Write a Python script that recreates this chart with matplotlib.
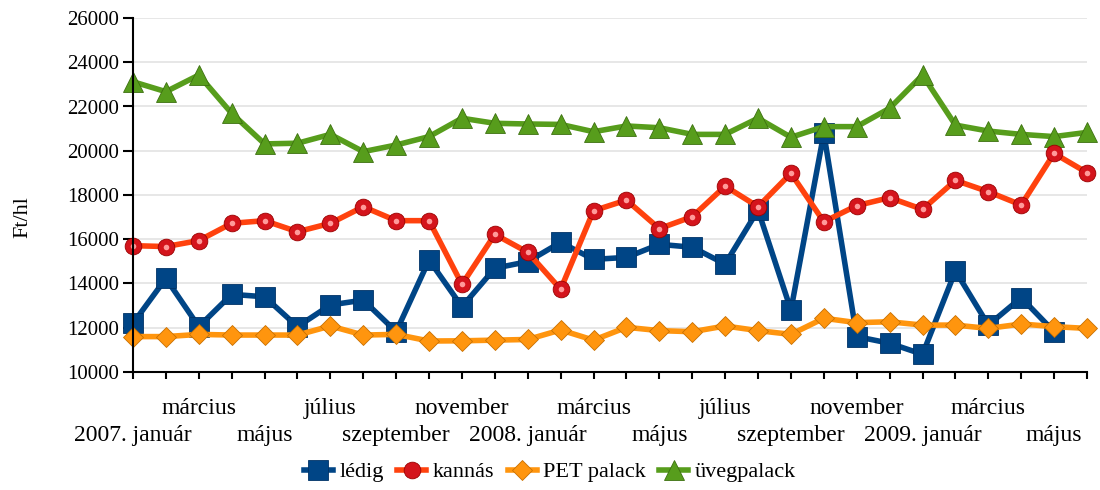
import matplotlib.pyplot as plt
import numpy as np

# havi árak (Ft/hl), 2007. január - 2009. június
honapok = ['2007. január', 'február', 'március', 'április', 'május', 'június',
           'július', 'augusztus', 'szeptember', 'október', 'november', 'december',
           '2008. január', 'február', 'március', 'április', 'május', 'június',
           'július', 'augusztus', 'szeptember', 'október', 'november', 'december',
           '2009. január', 'február', 'március', 'április', 'május', 'június']

ledig = [12200, 14230, 12050, 13510, 13400, 12050, 13030, 13250, 11820, 15060,
         12950, 14690, 14990, 15860, 15090, 15180, 15770, 15640, 14880, 17320,
         12800, 20790, 11600, 11300, 10800, 14570, 12120, 13360, 11820, np.nan]
kannas = [15710, 15670, 15940, 16720, 16840, 16340, 16720, 17470, 16840, 16840,
          13960, 16220, 15410, 13740, 17290, 17770, 16480, 17020, 18400, 17470,
          18980, 16790, 17520, 17880, 17350, 18660, 18150, 17550, 19880, 19010]
pet = [11600, 11600, 11700, 11670, 11670, 11670, 12080, 11670, 11700, 11400,
       11410, 11440, 11470, 11900, 11440, 12020, 11870, 11820, 12080, 11870,
       11700, 12430, 12230, 12270, 12120, 12120, 11970, 12170, 12050, 11970]
uveg = [23120, 22670, 23420, 21690, 20310, 20340, 20740, 19960, 20260, 20640,
        21470, 21240, 21210, 21190, 20860, 21120, 21040, 20740, 20740, 21470,
        20610, 21090, 21090, 21920, 23420, 21160, 20890, 20740, 20640, 20830]

plt.rcParams['font.family'] = ['Liberation Serif', 'DejaVu Serif']

fig = plt.figure(figsize=(11, 4.9), dpi=100)
ax = fig.add_axes([133 / 1100, 1 - 372 / 490, (1087 - 133) / 1100, 354 / 490])

x = np.arange(len(honapok))

ax.plot(x, ledig, color='#004586', lw=4, marker='s', ms=14,
        mfc='#004586', mec='#003366', mew=0.6, label='lédig', clip_on=False, zorder=3)
ax.plot(x, kannas, color='#ff420e', lw=4, marker='o', ms=12,
        mfc='#d4141c', mec='#9a0000', mew=0.6, label='kannás', clip_on=False, zorder=4)
ax.plot(x, kannas, ls='none', marker='o', ms=4, mfc='#ff9a9a', mec='none',
        clip_on=False, zorder=5)
ax.plot(x, pet, color='#ff950e', lw=4, marker='D', ms=10,
        mfc='#ff950e', mec='#c87000', mew=0.6, label='PET palack', clip_on=False, zorder=3)
ax.plot(x, uveg, color='#579d1c', lw=4, marker='^', ms=14,
        mfc='#579d1c', mec='#3d7010', mew=0.6, label='üvegpalack', clip_on=False, zorder=3)

ax.set_xlim(0, len(honapok) - 1)
ax.set_ylim(10000, 26000)
ax.set_yticks(np.arange(10000, 26001, 2000))
ax.tick_params(axis='y', labelsize=15, length=7, width=1.5, direction='out', pad=3)

# alsó sor (major): január, május, szeptember; felső sor (minor): március, július, november
also = [i for i in x if i % 4 == 0]
felso = [i for i in x if i % 4 != 0]
ax.set_xticks(also, [honapok[i] for i in also])
ax.set_xticks(felso, [honapok[i] if i % 4 == 2 else '' for i in felso], minor=True)
ax.tick_params(axis='x', which='both', labelsize=17, length=5, width=1.5,
               direction='out')
ax.tick_params(axis='x', which='major', pad=41)
ax.tick_params(axis='x', which='minor', pad=21)
for t in ax.get_xticklabels(which='major'):
    t.set_verticalalignment('center')
for t in ax.get_xticklabels(which='minor'):
    t.set_verticalalignment('center')

ax.grid(axis='y', color='#e3e3e3', lw=1.2)
ax.set_axisbelow(True)
for s in ['top', 'right']:
    ax.spines[s].set_visible(False)
for s in ['left', 'bottom']:
    ax.spines[s].set_linewidth(1.5)
    ax.spines[s].set_zorder(6)

ax.set_ylabel('Ft/hl', fontsize=16)
ax.yaxis.set_label_coords(-0.105, 0.438)

h, l = ax.get_legend_handles_labels()
fig.legend(h, l, loc='center', bbox_to_anchor=(0.5, 1 - 472 / 490), ncol=4,
           frameon=False, fontsize=16, handlelength=1.3, handletextpad=0.3,
           columnspacing=0.6)

fig.savefig('out.png', dpi=100, facecolor='white')
